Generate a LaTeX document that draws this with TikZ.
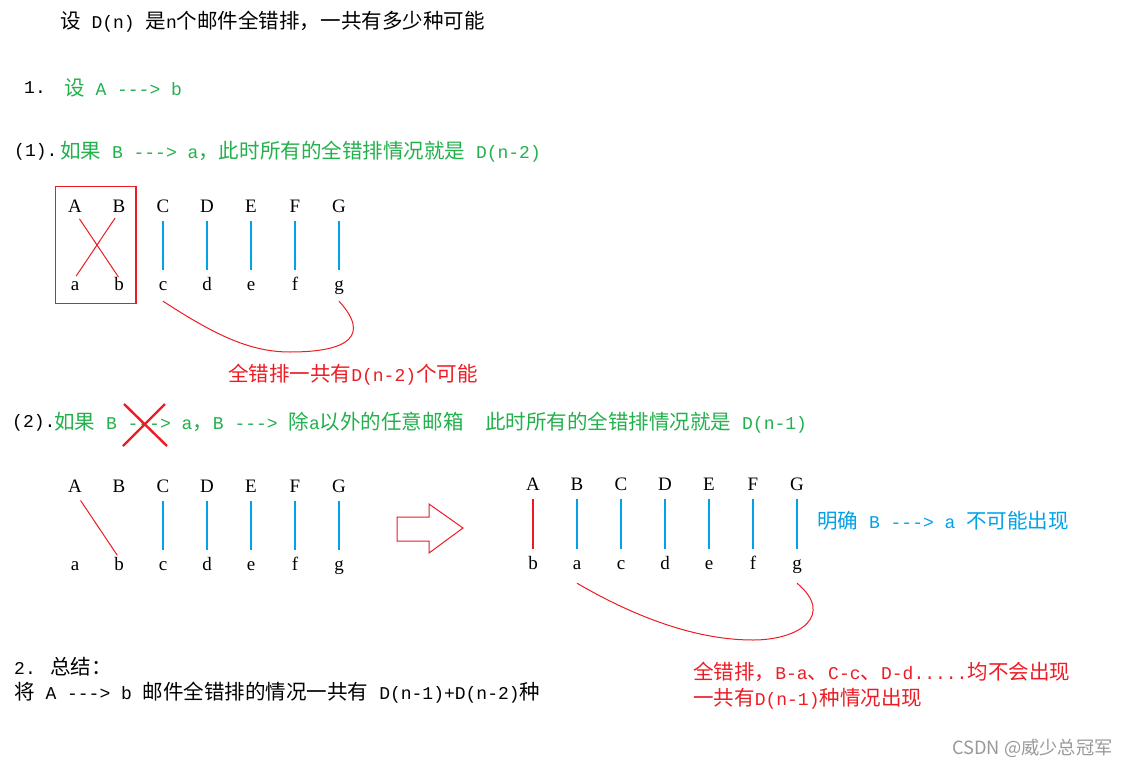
\documentclass[tikz,border=0pt]{standalone}
\usepackage{fontspec}
\setmainfont{Liberation Mono}[Ligatures=TeXOff]
\newfontfamily\zhfont{Noto Sans CJK SC}[Scale=1.14]
\newfontfamily\letterfont{Liberation Serif}
\newcommand\zh[1]{{\zhfont #1}}
\usetikzlibrary{fit}
\definecolor{paintred}{RGB}{237,28,36}
\definecolor{paintgreen}{RGB}{34,177,76}
\definecolor{paintblue}{RGB}{0,162,232}
\tikzset{
    txt/.style={anchor=west, inner sep=0pt, font=\fontsize{18}{22}\selectfont},
    letter/.style={inner sep=0pt, text height=12pt, text depth=0pt, font=\letterfont\fontsize{19}{22}\selectfont},
    blueline/.style={draw=paintblue, line width=1.1pt, shorten <=9pt, shorten >=8pt},
    redline/.style={draw=paintred, line width=1pt},
}
\begin{document}
\begin{tikzpicture}[x=1pt, y=-1pt]
        \useasboundingbox (0,0) rectangle (1137,768);
        \fill[white] (0,0) rectangle (1137,768);
        % heading and case 1
        \node[txt] (title) at (60,22) {\zh{设} D(n) \zh{是}n\zh{个邮件全错排，一共有多少种可能}};
        \node[txt] (n1) at (24,88) {1.};
        \node[txt, text=paintgreen] (s1) at (64,88) {\zh{设} A ---> b};
        \node[txt] (c1) at (14,152) {(1).};
        \node[txt, text=paintgreen] (c1text) at (60,152) {\zh{如果} B ---> a\zh{，此时所有的全错排情况就是} D(n-2)};
        \foreach \u/\l [count=\i from 0] in {A/a,B/b,C/c,D/d,E/e,F/f,G/g} {
            \node[letter] (t\u) at ({75+44*\i},206) {\u};
            \node[letter] (b\l) at ({75+44*\i},284) {\l};
        }
        \node[draw=paintred, line width=1.1pt, inner xsep=12pt, inner ysep=13pt, fit=(tA)(bb)] (box) {};
        \draw[redline, shorten <=8pt, shorten >=1pt] (tA.south) -- (bb.north);
        \draw[redline, shorten <=7pt, shorten >=2pt] (tB.south) -- (ba.north);
        \foreach \u/\l in {C/c,D/d,E/e,F/f,G/g}
            \draw[blueline] (t\u.south) -- (b\l.north);
        \draw[redline] ([yshift=-11pt]bc.south) .. controls (215,335) and (250,352) .. (290,352)
            .. controls (350,352) and (370,335) .. ([yshift=-11pt]bg.south);
        \node[txt, text=paintred] (count1) at (228,375) {\zh{全错排一共有}D(n-2)\zh{个可能}};
        % case 2
        \node[txt] (c2) at (12,423) {(2).};
        \node[txt, text=paintgreen] (c2text) at (54,423) {\zh{如果} B ---> a\zh{，}B ---> \zh{除}a\zh{以外的任意邮箱}\ \ \zh{此时所有的全错排情况就是} D(n-1)};
        \draw[paintred, line width=2.4pt] (124,404) -- (167,446) (165,404) -- (123,446);
        \foreach \u/\l [count=\i from 0] in {A/a,B/b,C/c,D/d,E/e,F/f,G/g} {
            \node[letter] (l\u) at ({75+44*\i},486) {\u};
            \node[letter] (l\l) at ({75+44*\i},564) {\l};
        }
        \draw[redline, shorten <=10pt, shorten >=3pt] (lA.south) -- (lb.north);
        \foreach \u/\l in {C/c,D/d,E/e,F/f,G/g}
            \draw[blueline] (l\u.south) -- (l\l.north);
        \draw[paintred, line width=1pt] (397,517) -- (429,517) -- (429,504) -- (463,528)
            -- (429,553) -- (429,541) -- (397,541) -- cycle;
        \foreach \u/\l [count=\i from 0] in {A/b,B/a,C/c,D/d,E/e,F/f,G/g} {
            \node[letter] (r\u) at ({533+44*\i},484) {\u};
            \node[letter] (r\l) at ({533+44*\i},563) {\l};
        }
        \draw[redline, line width=1.3pt, shorten <=9pt, shorten >=8pt] (rA.south) -- (rb.north);
        \foreach \u/\l in {B/a,C/c,D/d,E/e,F/f,G/g}
            \draw[blueline] (r\u.south) -- (r\l.north);
        \node[txt, text=paintblue] (note) at (817,521) {\zh{明确} B ---> a \zh{不可能出现}};
        \draw[redline] ([yshift=-14pt]ra.south) .. controls (640,620) and (700,640) .. (753,640)
            .. controls (800,640) and (835,615) .. ([yshift=-14pt]rg.south);
        % summary
        \node[txt] (sum1) at (14,667) {2. \zh{总结：}};
        \node[txt] (sum2) at (14,693) {\zh{将} A ---> b \zh{邮件全错排的情况一共有} D(n-1)+D(n-2)\zh{种}};
        \node[txt, text=paintred] (res1) at (693,672) {\zh{全错排，}B-a\zh{、}C-c\zh{、}D-d.....\zh{均不会出现}};
        \node[txt, text=paintred] (res2) at (693,699) {\zh{一共有}D(n-1)\zh{种情况出现}};
        \node[anchor=west, inner sep=0pt, text=black!40, font=\zhfont\fontsize{16}{18}\selectfont] (mark) at (952,748) {CSDN @威少总冠军};
\end{tikzpicture}
\end{document}
